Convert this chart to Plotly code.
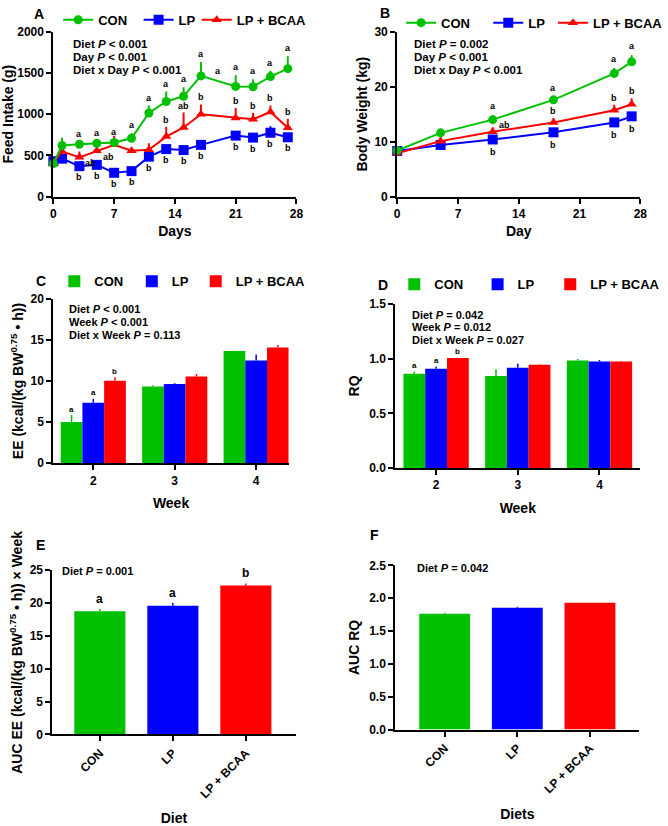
import plotly.graph_objects as go

FONT = "Liberation Sans, Arial, sans-serif"
GREEN = "#00C000"
BLUE = "#0000FF"
RED = "#FF0000"
W, H = 668, 826

groups = ["CON", "LP", "LP + BCAA"]

# ---------- Panel A: feed intake ----------
fi_days = [0, 1, 3, 5, 7, 9, 11, 13, 15, 17, 21, 23, 25, 27]
fi_con = [402, 620, 636, 648, 656, 708, 1014, 1153, 1217, 1463, 1336, 1332, 1455, 1551]
fi_con_err = [0, 95, 0, 0, 30, 60, 90, 120, 110, 170, 135, 90, 70, 150]
fi_lp = [430, 461, 370, 386, 290, 310, 485, 577, 565, 628, 740, 716, 775, 720]
fi_lp_err = [0, 20, 0, 0, 0, 0, 15, 30, 40, 25, 40, 25, 80, 20]
fi_bcaa = [410, 549, 477, 557, 628, 557, 569, 728, 839, 998, 954, 938, 1026, 835]
fi_bcaa_err = [0, 30, 70, 20, 110, 20, 80, 120, 180, 120, 120, 80, 80, 110]
fi_con_letters = ["", "", "a", "a", "a", "a", "a", "a", "a", "a", "a", "a", "a", "a"]
fi_lp_letters = ["", "", "b", "b", "b", "b", "b", "b", "b", "b", "b", "b", "b", "b"]
fi_bcaa_letters = ["", "", "", "", "", "", "", "b", "ab", "b", "b", "b", "b", "b"]
fi_bcaa_side_letters = ["", "", "ab", "ab", "", "", "", "", "", "", "", "", "", ""]
fi_extra_letter_day = 19
fi_extra_letter_y = 1520

# ---------- Panel B: body weight ----------
bw_days = [0, 5, 11, 18, 25, 27]
bw_con = [8.4, 11.6, 14.0, 17.6, 22.4, 24.5]
bw_con_err = [0.3, 0.5, 0.8, 0.6, 1.0, 1.2]
bw_lp = [8.3, 9.4, 10.4, 11.7, 13.5, 14.6]
bw_lp_err = [0.3, 0.3, 0.4, 0.4, 0.5, 0.6]
bw_bcaa = [7.9, 10.1, 11.8, 13.5, 15.7, 16.8]
bw_bcaa_err = [0.3, 0.7, 0.8, 0.8, 1.0, 1.1]
bw_con_letters = ["", "", "a", "a", "a", "a"]
bw_lp_letters = ["", "", "b", "b", "b", "b"]
bw_bcaa_letters = ["", "", "", "b", "b", "b"]
bw_bcaa_side_letters = ["", "", "ab", "", "", ""]

# ---------- Panel C: EE ----------
weeks = [2, 3, 4]
ee_con = [5.0, 9.35, 13.65]
ee_con_err = [0.85, 0.15, 0.05]
ee_lp = [7.35, 9.65, 12.5]
ee_lp_err = [0.5, 0.08, 0.72]
ee_bcaa = [10.05, 10.55, 14.1]
ee_bcaa_err = [0.4, 0.3, 0.28]
ee_letters = [["a", "", ""], ["a", "", ""], ["b", "", ""]]

# ---------- Panel D: RQ ----------
rq_con = [0.862, 0.841, 0.982]
rq_con_err = [0.02, 0.06, 0.015]
rq_lp = [0.907, 0.916, 0.973]
rq_lp_err = [0.02, 0.036, 0.015]
rq_bcaa = [1.006, 0.943, 0.973]
rq_bcaa_err = [0.0, 0.006, 0.006]
rq_letters = [["a", "", ""], ["a", "", ""], ["b", "", ""]]

# ---------- Panel E / F: AUC ----------
auc_ee = [18.75, 19.6, 22.7]
auc_ee_err = [0.35, 0.4, 0.3]
auc_ee_letters = ["a", "a", "b"]
auc_rq = [1.763, 1.853, 1.932]
auc_rq_err = [0.015, 0.015, 0.0]

colors = [GREEN, BLUE, RED]

# legend item anchor positions (px): symbol centre x, centre y, offset of symbol inside item
legend_pos = {
    "A": ([70, 153, 213], 13, 13),
    "B": ([424, 514, 581], 16, 13),
    "C": ([73, 153, 219], 279, 20),
    "D": ([424, 510, 585], 282, 20),
}

fig = go.Figure()


def err(arr, color, thickness=2):
    return dict(type="data", symmetric=False, array=arr, arrayminus=[0] * len(arr),
                thickness=thickness, width=0, color=color)


def add_line(x, y, e, name, color, symbol, size, xa, ya, legend):
    fig.add_trace(go.Scatter(
        x=x, y=y, mode="lines+markers", name=name,
        line=dict(color=color, width=2),
        marker=dict(color=color, symbol=symbol, size=size),
        error_y=err(e, color), xaxis=xa, yaxis=ya, legend=legend,
        cliponaxis=False))


# Panel A (legends 1-3), Panel B (legends 4-6)
add_line(fi_days, fi_lp, fi_lp_err, "LP", BLUE, "square", 10, "x", "y", "legend2")
add_line(fi_days, fi_bcaa, fi_bcaa_err, "LP + BCAA", RED, "triangle-up", 9, "x", "y", "legend3")
add_line(fi_days, fi_con, fi_con_err, "CON", GREEN, "circle", 9, "x", "y", "legend")
add_line(bw_days, bw_lp, bw_lp_err, "LP", BLUE, "square", 10, "x2", "y2", "legend5")
add_line(bw_days, bw_bcaa, bw_bcaa_err, "LP + BCAA", RED, "triangle-up", 9, "x2", "y2", "legend6")
add_line(bw_days, bw_con, bw_con_err, "CON", GREEN, "circle", 9, "x2", "y2", "legend4")

# Panel C (legends 7-9) and D (legends 10-12) grouped bars
for i, (name, vals, e) in enumerate(zip(groups, [ee_con, ee_lp, ee_bcaa], [ee_con_err, ee_lp_err, ee_bcaa_err])):
    fig.add_trace(go.Bar(x=weeks, y=vals, name=name, marker=dict(color=colors[i], line=dict(width=0)),
                         error_y=err(e, colors[i], 1.5), xaxis="x3", yaxis="y3", legend=f"legend{7 + i}"))
for i, (name, vals, e) in enumerate(zip(groups, [rq_con, rq_lp, rq_bcaa], [rq_con_err, rq_lp_err, rq_bcaa_err])):
    fig.add_trace(go.Bar(x=weeks, y=vals, name=name, marker=dict(color=colors[i], line=dict(width=0)),
                         error_y=err(e, colors[i], 1.5), xaxis="x4", yaxis="y4", legend=f"legend{10 + i}"))

# Panel E and F single bars (one trace per diet sharing one offset group)
for vals, e, xa, ya in [(auc_ee, auc_ee_err, "x5", "y5"), (auc_rq, auc_rq_err, "x6", "y6")]:
    for j in range(3):
        fig.add_trace(go.Bar(x=[groups[j]], y=[vals[j]], width=0.7, offsetgroup="one" + xa,
                             marker=dict(color=colors[j], line=dict(width=0)),
                             error_y=err([e[j]], colors[j], 1.5),
                             xaxis=xa, yaxis=ya, showlegend=False))

annotations = []


def letter(x, y, text, xa, ya, yshift=0, xshift=0, size=9, xanchor="center"):
    annotations.append(dict(x=x, y=y, text=text, xref=xa, yref=ya, showarrow=False,
                            yshift=yshift, xshift=xshift, xanchor=xanchor, yanchor="middle",
                            font=dict(family=FONT, size=size, color="black", weight="bold")))


# Letters A
for d, v, e, l in zip(fi_days, fi_con, fi_con_err, fi_con_letters):
    if l:
        letter(d, v + max(e, 25), l, "x", "y", yshift=8)
letter(fi_extra_letter_day, fi_extra_letter_y, "a", "x", "y")
for d, v, l in zip(fi_days, fi_lp, fi_lp_letters):
    if l:
        letter(d, v, l, "x", "y", yshift=-11)
for d, v, e, l in zip(fi_days, fi_bcaa, fi_bcaa_err, fi_bcaa_letters):
    if l:
        letter(d, v + e, l, "x", "y", yshift=7)
for d, v, l in zip(fi_days, fi_bcaa, fi_bcaa_side_letters):
    if l:
        letter(d, v, l, "x", "y", yshift=-6, xshift=4, xanchor="left")
# Letters B
for d, v, e, l in zip(bw_days, bw_con, bw_con_err, bw_con_letters):
    if l:
        letter(d, v + e, l, "x2", "y2", yshift=9)
for d, v, l in zip(bw_days, bw_lp, bw_lp_letters):
    if l:
        letter(d, v, l, "x2", "y2", yshift=-13)
for d, v, e, l in zip(bw_days, bw_bcaa, bw_bcaa_err, bw_bcaa_letters):
    if l:
        letter(d, v + e, l, "x2", "y2", yshift=7)
for d, v, e, l in zip(bw_days, bw_bcaa, bw_bcaa_err, bw_bcaa_side_letters):
    if l:
        letter(d, v + e, l, "x2", "y2", yshift=2, xshift=4, xanchor="left")

# Letters C, D (grouped offsets)
bar_w = (1 - 0.2) / 3
for vals_list, err_list, lets, xa, ya in [
    ([ee_con, ee_lp, ee_bcaa], [ee_con_err, ee_lp_err, ee_bcaa_err], ee_letters, "x3", "y3"),
    ([rq_con, rq_lp, rq_bcaa], [rq_con_err, rq_lp_err, rq_bcaa_err], rq_letters, "x4", "y4")]:
    for k in range(3):
        for wi, wk in enumerate(weeks):
            if lets[k][wi]:
                letter(wk + (k - 1) * bar_w, vals_list[k][wi] + err_list[k][wi], lets[k][wi], xa, ya,
                       yshift=6, size=8)
# Letters E
for g, v, e, l in zip(groups, auc_ee, auc_ee_err, auc_ee_letters):
    letter(g, v + e, l, "x5", "y5", yshift=10, size=12)


def ptext(px, py, text, size=11.5, xanchor="left"):
    annotations.append(dict(x=px / W, y=1 - py / H, xref="paper", yref="paper", text=text,
                            showarrow=False, xanchor=xanchor, yanchor="middle",
                            font=dict(family=FONT, size=size, color="black", weight="bold")))


LT = "&lt;"
ptext(70, 38, "Diet <i>P</i> " + LT + " 0.001")
ptext(70, 51, "Day <i>P</i> " + LT + " 0.001")
ptext(70, 64, "Diet x Day <i>P</i> " + LT + " 0.001")
ptext(422, 38, "Diet <i>P</i> = 0.002")
ptext(422, 51, "Day <i>P</i> " + LT + " 0.001")
ptext(422, 64, "Diet x Day <i>P</i> " + LT + " 0.001")
ptext(66, 307, "Diet <i>P</i> " + LT + " 0.001", size=11)
ptext(66, 320, "Week <i>P</i> " + LT + " 0.001", size=11)
ptext(66, 334, "Diet x Week <i>P</i> = 0.113", size=11)
ptext(420, 313, "Diet <i>P</i> = 0.042", size=11)
ptext(420, 326, "Week <i>P</i> = 0.012", size=11)
ptext(420, 339, "Diet x Week <i>P</i> = 0.027", size=11)
ptext(59, 574, "Diet <i>P</i> = 0.001", size=11)
ptext(425, 571, "Diet <i>P</i> = 0.042", size=11)
# panel letters
for lab, px, py in [("A", 37, 7), ("B", 394, 6), ("C", 39, 279), ("D", 392, 283), ("E", 39, 547), ("F", 384, 537)]:
    ptext(px, py, lab, size=14, xanchor="center")


def px2d(a, b):
    return [a / W, b / W]


def py2d(top, bottom):
    return [1 - bottom / H, 1 - top / H]


base = dict(showline=True, linecolor="black", linewidth=2, ticks="outside", ticklen=5, tickwidth=2,
            tickcolor="black", showgrid=False, zeroline=False, mirror=False,
            tickfont=dict(family=FONT, size=12, color="black", weight="bold"))


def title(t, standoff):
    return dict(text=t, standoff=standoff, font=dict(family=FONT, size=14, color="black", weight="bold"))


layout = dict(
    width=W, height=H, margin=dict(l=0, r=0, t=0, b=0),
    paper_bgcolor="white", plot_bgcolor="white",
    barmode="group", bargap=0.2, bargroupgap=0,
    font=dict(family=FONT, color="black"),
    annotations=annotations,
    xaxis=dict(base, domain=px2d(52, 303), anchor="y", range=[0, 28], tickvals=[0, 7, 14, 21, 28],
               title=title("Days", 6)),
    yaxis=dict(base, domain=py2d(25, 193), anchor="x", range=[0, 2000], dtick=500,
               title=title("Feed Intake (g)", 4)),
    xaxis2=dict(base, domain=px2d(407, 658), anchor="y2", range=[0, 28], tickvals=[0, 7, 14, 21, 28],
                title=title("Day", 6)),
    yaxis2=dict(base, domain=py2d(25, 193), anchor="x2", range=[0, 30], dtick=10,
                title=title("Body Weight (kg)", 4)),
    xaxis3=dict(base, domain=px2d(52, 295), anchor="y3", range=[1.51, 4.4], tickvals=weeks,
                title=title("Week", 12)),
    yaxis3=dict(base, domain=py2d(297, 464), anchor="x3", range=[0, 20], dtick=5,
                title=title("EE (kcal/(kg BW<sup>0.75</sup> • h))", 4)),
    xaxis4=dict(base, domain=px2d(405, 658), anchor="y4", range=[1.5, 4.5], tickvals=weeks,
                title=title("Week", 12)),
    yaxis4=dict(base, domain=py2d(302, 469), anchor="x4", range=[0, 1.5], dtick=0.5, tickformat=".1f",
                title=title("RQ", 6)),
    xaxis5=dict(base, domain=px2d(51, 302), anchor="y5", type="category", range=[-0.65, 2.68],
                tickangle=-45, title=title("Diet", 14)),
    yaxis5=dict(base, domain=py2d(573, 740), anchor="x5", range=[0, 25], dtick=5,
                title=title("AUC EE (kcal/(kg BW<sup>0.75</sup> • h)) × Week", 4)),
    xaxis6=dict(base, domain=px2d(405, 657), anchor="y6", type="category", range=[-0.68, 2.68],
                tickangle=-45, title=title("Diets", 14)),
    yaxis6=dict(base, domain=py2d(568, 735), anchor="x6", range=[0, 2.5], dtick=0.5, tickformat=".1f",
                title=title("AUC RQ", 6)),
)

leg_font = dict(family=FONT, size=13, color="black", weight="bold")
n = 0
for panel in ["A", "B", "C", "D"]:
    xs, py, off = legend_pos[panel]
    for px in xs:
        n += 1
        key = "legend" if n == 1 else f"legend{n}"
        layout[key] = dict(orientation="h", x=(px - off) / W, y=1 - py / H, xanchor="left",
                           yanchor="middle", font=leg_font, bgcolor="rgba(0,0,0,0)", itemwidth=30,
                           itemclick=False, itemdoubleclick=False)

fig.update_layout(**layout)
fig.write_html("out.html", config={"displayModeBar": False},
               post_script="document.body.style.margin='0';document.body.style.overflow='hidden';")
